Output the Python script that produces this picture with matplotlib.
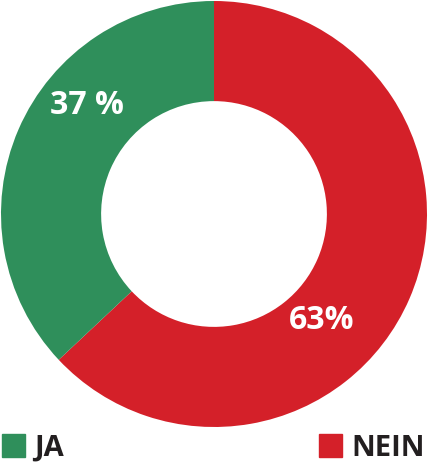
import numpy as np
import matplotlib.pyplot as plt
from matplotlib.patches import Rectangle

categories = ["NEIN", "JA"]
values = [63, 37]
labels = ["63%", "37 %"]
colors = ["#d42029", "#2f8f5b"]

fig = plt.figure(figsize=(4.28, 4.62), dpi=100)
ax = fig.add_axes([1 / 428, 35 / 462, 426 / 428, 426 / 462])

wedges, _ = ax.pie(values, colors=colors, startangle=90, counterclock=False,
                   radius=1.0, wedgeprops=dict(width=0.47, linewidth=0))
ax.set_xlim(-1, 1)
ax.set_ylim(-1, 1)
ax.set_aspect("equal")

# percentage labels (angle in degrees, radius as fraction of outer radius)
label_pos = [(-44.7, 0.71), (139.4, 0.785)]
for lab, (a, r) in zip(labels, label_pos):
    ang = np.deg2rad(a)
    ax.text(r * np.cos(ang), r * np.sin(ang), lab, ha="center", va="center",
            color="white", fontsize=23, fontweight="bold", family="Open Sans")

# legend at the bottom
legend_items = [("JA", colors[1], 2), ("NEIN", colors[0], 319)]
for name, col, x0 in legend_items:
    fig.patches.append(Rectangle((x0 / 428, 5 / 462), 23 / 428, 23 / 462,
                                 transform=fig.transFigure, color=col))
    fig.text((x0 + 32) / 428, 6 / 462, name, ha="left", va="baseline",
             color="#231f20", fontsize=21, fontweight="bold", family="Open Sans")

fig.savefig("out.png", dpi=100)
